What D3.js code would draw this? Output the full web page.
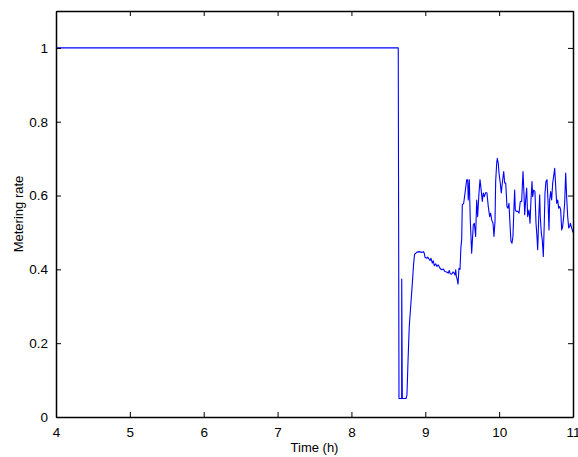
<!DOCTYPE html>
<html>
<head>
<meta charset="utf-8">
<script src="https://cdn.jsdelivr.net/npm/d3@7"></script>
<style>
  body { margin: 0; background: #fff; }
  svg { display: block; font-family: "Liberation Sans", Arial, sans-serif; }
</style>
</head>
<body>
<svg id="chart" width="578" height="457"></svg>
<script>
// time in hours, metering rate (0..1)
const times = [
  4.000, 8.634, 8.644, 8.680, 8.681, 8.689, 8.739,
  8.752, 8.766, 8.783, 8.806, 8.824, 8.840, 8.854,
  8.861, 8.884, 8.915, 8.951, 8.973, 8.986, 8.996, 9.019, 9.033, 9.050,
  9.064, 9.077, 9.095, 9.108, 9.122, 9.141, 9.158, 9.176, 9.199, 9.222,
  9.244, 9.267, 9.290, 9.311, 9.325, 9.338, 9.357, 9.375, 9.389, 9.402,
  9.412, 9.420, 9.433, 9.443, 9.456, 9.470, 9.483, 9.493, 9.501,
  9.520, 9.538, 9.561, 9.574, 9.582, 9.596, 9.609, 9.628, 9.650, 9.664,
  9.682, 9.696, 9.709, 9.727, 9.741, 9.754, 9.772, 9.785, 9.799, 9.818,
  9.835, 9.853, 9.872, 9.885, 9.899, 9.917, 9.930, 9.944, 9.953, 9.967,
  9.975, 9.988, 9.998, 10.015, 10.029, 10.043, 10.062, 10.075, 10.089,
  10.106, 10.120, 10.133, 10.151, 10.160, 10.174, 10.187, 10.201, 10.210,
  10.219, 10.232, 10.255, 10.269, 10.286, 10.305, 10.323, 10.336, 10.346,
  10.359, 10.373, 10.386, 10.404, 10.418, 10.431, 10.445, 10.454, 10.468,
  10.485, 10.499, 10.512, 10.522, 10.535, 10.549, 10.557, 10.571, 10.584,
  10.598, 10.611, 10.621, 10.634, 10.648, 10.661, 10.675, 10.684, 10.698,
  10.711, 10.725, 10.738, 10.752, 10.766, 10.779, 10.793, 10.806, 10.820,
  10.833, 10.847, 10.860, 10.874, 10.887, 10.901, 10.914, 10.928, 10.942,
  10.955, 10.963, 11.000
];
const rates = [
  1.000, 1.000, 0.050, 0.050, 0.374, 0.050, 0.050,
  0.060, 0.150, 0.245, 0.310, 0.360, 0.410, 0.440,
  0.442, 0.446, 0.448, 0.446, 0.448, 0.444, 0.433, 0.430, 0.433, 0.428,
  0.424, 0.430, 0.417, 0.423, 0.410, 0.415, 0.408, 0.412, 0.403, 0.399,
  0.401, 0.394, 0.393, 0.390, 0.397, 0.388, 0.387, 0.393, 0.390, 0.385,
  0.399, 0.381, 0.372, 0.360, 0.403, 0.400, 0.462, 0.480, 0.575,
  0.579, 0.607, 0.643, 0.643, 0.588, 0.643, 0.534, 0.444, 0.521, 0.525,
  0.489, 0.588, 0.543, 0.607, 0.643, 0.620, 0.584, 0.607, 0.597, 0.608,
  0.607, 0.570, 0.543, 0.552, 0.534, 0.525, 0.489, 0.530, 0.638, 0.688,
  0.701, 0.688, 0.661, 0.634, 0.607, 0.634, 0.665, 0.634, 0.634,
  0.570, 0.566, 0.579, 0.507, 0.476, 0.471, 0.489, 0.570, 0.615,
  0.561, 0.557, 0.557, 0.552, 0.584, 0.584, 0.665, 0.607, 0.548,
  0.588, 0.620, 0.543, 0.561, 0.525, 0.588, 0.638, 0.597, 0.615,
  0.611, 0.525, 0.489, 0.453, 0.534, 0.602, 0.543, 0.498, 0.480,
  0.435, 0.525, 0.607, 0.638, 0.643, 0.588, 0.507, 0.588, 0.611,
  0.588, 0.634, 0.652, 0.674, 0.624, 0.579, 0.588, 0.566, 0.570,
  0.561, 0.507, 0.516, 0.543, 0.579, 0.661, 0.597, 0.543, 0.512,
  0.516, 0.525, 0.500
];
const xTicks = [4, 5, 6, 7, 8, 9, 10, 11];
const yTicks = [0, 0.2, 0.4, 0.6, 0.8, 1];

const svg = d3.select('#chart');
const margin = { top: 11, right: 5, bottom: 40, left: 56 };
const width = 578 - margin.left - margin.right;
const height = 457 - margin.top - margin.bottom;

const g = svg.append('g')
  .attr('transform', `translate(${margin.left},${margin.top})`);

const x = d3.scaleLinear().domain([4, 11]).range([0, width]);
const y = d3.scaleLinear().domain([0, 1.1]).range([height, 0]);

const data = times.map((t, i) => ({ t: t, v: rates[i] }));

const line = d3.line()
  .x(d => x(d.t))
  .y(d => y(d.v));

g.append('path')
  .datum(data)
  .attr('fill', 'none')
  .attr('stroke', '#0000ff')
  .attr('stroke-width', 1.1)
  .attr('stroke-linejoin', 'round')
  .attr('d', line);

// axes, matlab style: ticks inward on all four sides
const tickLen = 5;
const fmt = d => String(d);

const axBottom = g.append('g')
  .attr('transform', `translate(0,${height})`)
  .call(d3.axisBottom(x).tickValues(xTicks).tickSizeInner(-tickLen).tickSizeOuter(0).tickPadding(10).tickFormat(fmt));
const axTop = g.append('g')
  .call(d3.axisTop(x).tickValues(xTicks).tickSizeInner(-tickLen).tickSizeOuter(0).tickFormat(''));
const axLeft = g.append('g')
  .call(d3.axisLeft(y).tickValues(yTicks).tickSizeInner(-tickLen).tickSizeOuter(0).tickPadding(8).tickFormat(fmt));
const axRight = g.append('g')
  .attr('transform', `translate(${width},0)`)
  .call(d3.axisRight(y).tickValues(yTicks).tickSizeInner(-tickLen).tickSizeOuter(0).tickFormat(''));

[axBottom, axTop, axLeft, axRight].forEach(a => {
  a.selectAll('.domain').attr('stroke', '#000').attr('stroke-width', 1.5);
  a.selectAll('.tick line').attr('stroke', '#000');
  a.selectAll('.tick text').attr('font-size', 13.5).attr('fill', '#000')
    .attr('font-family', '"Liberation Sans", Arial, sans-serif');
});

g.append('text')
  .attr('x', width / 2)
  .attr('y', height + 35)
  .attr('text-anchor', 'middle')
  .attr('font-size', 13)
  .text('Time (h)');

g.append('text')
  .attr('transform', `translate(${-33},${height / 2}) rotate(-90)`)
  .attr('text-anchor', 'middle')
  .attr('font-size', 13)
  .text('Metering rate');
</script>
</body>
</html>
